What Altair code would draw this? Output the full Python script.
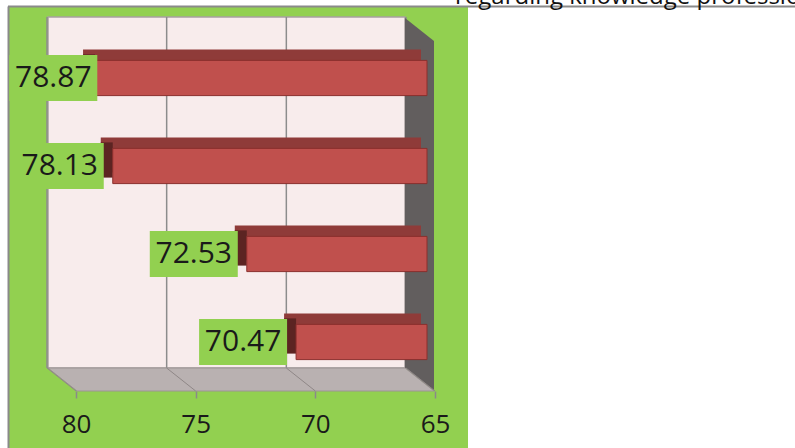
import altair as alt
import pandas as pd

# ---- data ----
categories = ["Item 1", "Item 2", "Item 3", "Item 4"]
values = [78.87, 78.13, 72.53, 70.47]
tick_values = [80, 75, 70, 65]
title_text = "regarding knowledge professionals"

W, H = 359, 352
FONT = "Open Sans"

df = pd.DataFrame({"category": categories, "value": values})
df["base"] = min(tick_values)
ticks_df = pd.DataFrame({"tick": tick_values})
wall_df = pd.DataFrame({"lo": [max(tick_values)], "hi": [min(tick_values)]})
one = pd.DataFrame({"t": [title_text]})

xscale = alt.Scale(domain=[min(tick_values), max(tick_values)], reverse=True, nice=False, zero=False)
yscale = alt.Scale(domain=categories, paddingInner=0.6, paddingOuter=0.3)

x_axis = alt.Axis(values=tick_values, tickOffset=8, offset=5, tickSize=7, domain=False, grid=False,
                  labelFontSize=26, labelFont=FONT, labelColor="#1a1a1a", tickColor="#8a8a8a",
                  tickWidth=1.5, labelPadding=13, title=None, labelFlush=False, labelOverlap=False,
                  zindex=1)

# ---- decoration (chart frame) ----
panel = alt.Chart(one).mark_rect(fill="#92d050").encode(
    x=alt.value(-59), x2=alt.value(400), y=alt.value(-27), y2=alt.value(425))
top_line = alt.Chart(one).mark_rule(color="#8a8a8a", strokeWidth=2).encode(
    x=alt.value(-60), x2=alt.value(740), y=alt.value(-27.5))
left_line = alt.Chart(one).mark_rule(color="#8a8a8a", strokeWidth=2).encode(
    x=alt.value(-59.5), y=alt.value(-27.5), y2=alt.value(425))

back_wall = alt.Chart(wall_df).mark_rect(fill="#f8ecec", stroke="#a8a0a0", strokeWidth=1.5,
                                         xOffset=-20, x2Offset=-22).encode(
    x=alt.X("lo:Q", scale=xscale, axis=x_axis), x2="hi:Q",
    y=alt.value(-17), y2=alt.value(334))
grid = alt.Chart(ticks_df).mark_rule(color="#8c8c8c", strokeWidth=1.5, xOffset=-21).encode(
    x=alt.X("tick:Q", scale=xscale, axis=x_axis), y=alt.value(-17), y2=alt.value(334))

right_wall = alt.Chart(one).mark_point(shape="M0,0L29,23L29,373L0,350Z", size=4, filled=True,
                                       fill="#625e5e", opacity=1, strokeWidth=0).encode(
    x=alt.value(337), y=alt.value(-16))
floor = alt.Chart(one).mark_point(shape="M0,0L357,0L386,23L29,23Z", size=4, filled=True,
                                  fill="#b9b1b1", opacity=1, stroke="#9c9494", strokeWidth=1).encode(
    x=alt.value(-20), y=alt.value(334))
floor_lines = alt.Chart(ticks_df).mark_rule(color="#8f8787", strokeWidth=1, xOffset=-21, x2Offset=8).encode(
    x=alt.X("tick:Q", scale=xscale, axis=x_axis), x2="tick:Q", y=alt.value(334), y2=alt.value(357))

# ---- bars ----
base = alt.Chart(df)
ycat = alt.Y("category:N", scale=yscale, axis=None)

bar_top = base.mark_bar(color="#8f3b39", xOffset=-12, x2Offset=-6, yOffset=-11).encode(
    x=alt.X("value:Q", scale=xscale, axis=x_axis), x2="base:Q", y=ycat)
bar_side = base.mark_bar(color="#5c2422", xOffset=-12, x2Offset=0, yOffset=-6).encode(
    x=alt.X("value:Q", scale=xscale, axis=x_axis), x2="value:Q", y=ycat)
bar_front = base.mark_bar(color="#c0504d", stroke="#8b2f2d", strokeWidth=1).encode(
    x=alt.X("value:Q", scale=xscale, axis=x_axis), x2="base:Q", y=ycat)

lab = base.transform_calculate(lp="min(datum.value, 78.4)")
label_box = lab.mark_bar(color="#92d050", height=46, xOffset=-97, x2Offset=-9).encode(
    x=alt.X("lp:Q", scale=xscale, axis=x_axis), x2="lp:Q", y=ycat)
label_text = lab.mark_text(font=FONT, fontSize=30, color="#1a1a1a", align="center",
                           baseline="middle", dx=-53).encode(
    x=alt.X("lp:Q", scale=xscale, axis=x_axis), y=ycat, text=alt.Text("value:Q", format=".2f"))

title = alt.Chart(one).mark_text(font=FONT, fontSize=24, color="#111111", align="left",
                                 baseline="alphabetic").encode(
    x=alt.value(387), y=alt.value(-30), text="t:N")

chart = alt.layer(
    panel, top_line, left_line, back_wall, grid, right_wall, floor, floor_lines,
    bar_top, bar_side, bar_front, label_box, label_text, title
).properties(
    width=W, height=H,
    padding={"left": 68, "top": 34, "right": 795 - 68 - W, "bottom": 448 - 34 - H},
    autosize=alt.AutoSizeParams(type="none"),
    background="white",
).configure_view(strokeWidth=0)

chart.save("out.html", embed_options={"renderer": "svg", "actions": False})
